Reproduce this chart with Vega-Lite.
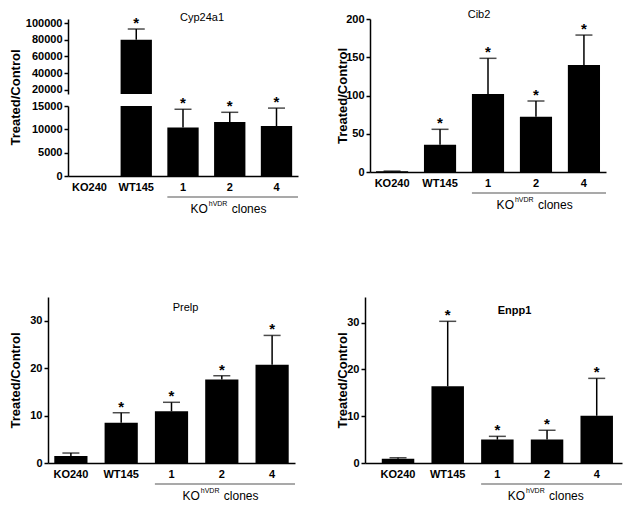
{
  "$schema": "https://vega.github.io/schema/vega-lite/v6.json",
  "autosize": {"type": "pad"},
  "padding": {"left": 8, "top": 9, "right": 8, "bottom": 8},
  "background": "white",
  "config": {
    "font": "Liberation Sans",
    "view": {"stroke": null},
    "axis": {"grid": false, "labelOverlap": false, "domainColor": "black", "domainWidth": 1.5, "tickColor": "black", "tickWidth": 1.5, "labelColor": "black", "labelFont": "Liberation Sans", "labelFontWeight": "bold", "labelFontSize": 11, "titleColor": "black", "titleFont": "Liberation Sans", "titleFontWeight": "bold", "titleFontSize": 13},
    "axisX": {"ticks": false, "tickSize": 0, "labelPadding": 5, "labelAngle": 0},
    "axisY": {"tickSize": 4, "labelPadding": 2, "titleBaseline": "middle", "titleAlign": "center", "labelOverlap": false},
    "title": {"font": "Liberation Sans", "fontSize": 11, "fontWeight": "normal", "color": "black", "anchor": "middle", "frame": "group", "baseline": "middle", "offset": 0}
  },
  "datasets": {
    "cyp": [
      {"group": "KO240", "value": 1, "upper": null, "sig": ""},
      {"group": "WT145", "value": 80000, "upper": 92800, "sig": "*"},
      {"group": "1", "value": 10400, "upper": 14300, "sig": "*"},
      {"group": "2", "value": 11550, "upper": 13650, "sig": "*"},
      {"group": "4", "value": 10700, "upper": 14550, "sig": "*"}
    ],
    "cib": [
      {"group": "KO240", "value": 1, "upper": 1.2, "sig": ""},
      {"group": "WT145", "value": 35.7, "upper": 55.8, "sig": "*"},
      {"group": "1", "value": 102, "upper": 148.6, "sig": "*"},
      {"group": "2", "value": 72.3, "upper": 92.8, "sig": "*"},
      {"group": "4", "value": 139.9, "upper": 179, "sig": "*"}
    ],
    "prelp": [
      {"group": "KO240", "value": 1.5, "upper": 2.1, "sig": ""},
      {"group": "WT145", "value": 8.5, "upper": 10.6, "sig": "*"},
      {"group": "1", "value": 10.9, "upper": 12.8, "sig": "*"},
      {"group": "2", "value": 17.6, "upper": 18.4, "sig": "*"},
      {"group": "4", "value": 20.7, "upper": 26.9, "sig": "*"}
    ],
    "enpp": [
      {"group": "KO240", "value": 0.93, "upper": 1.1, "sig": ""},
      {"group": "WT145", "value": 16.4, "upper": 30.3, "sig": "*"},
      {"group": "1", "value": 5.0, "upper": 5.7, "sig": "*"},
      {"group": "2", "value": 5.0, "upper": 7.0, "sig": "*"},
      {"group": "4", "value": 10.1, "upper": 18.1, "sig": "*"}
    ],
    "one": [{}]
  },
  "bounds": "flush",
  "spacing": 278,
  "vconcat": [
    {
      "bounds": "flush",
      "spacing": 322,
      "hconcat": [
        {
          "bounds": "flush",
          "spacing": 12,
          "vconcat": [
            {
              "width": 250, "height": 75,
              "data": {"name": "cyp"},
              "title": {"text": "Cyp24a1", "dx": 29, "dy": 11},
              "encoding": {"x": {"field": "group", "type": "nominal", "scale": {"domain": ["KO240", "WT145", "1", "2", "4"], "range": [20, 250], "paddingInner": 0.33, "paddingOuter": 0.125}, "axis": null}},
              "layer": [
                {"mark": {"type": "bar", "color": "black", "clip": true},
                 "encoding": {"y": {"field": "value", "type": "quantitative", "title": null, "scale": {"domain": [15000, 104800], "nice": false, "zero": false}, "axis": {"values": [20000, 40000, 60000, 80000, 100000], "format": "d", "offset": -20, "labelOverlap": false}}}},
                {"transform": [{"filter": "datum.upper != null && datum.upper >= 15000"}],
                 "mark": {"type": "rule", "color": "black", "strokeWidth": 1.5},
                 "encoding": {"y": {"field": "value", "type": "quantitative", "title": null, "axis": {"values": [20000, 40000, 60000, 80000, 100000], "format": "d", "offset": -20, "labelOverlap": false}}, "y2": {"field": "upper"}}},
                {"transform": [{"filter": "datum.upper != null && datum.upper >= 15000"}],
                 "mark": {"type": "tick", "color": "black", "size": 17, "thickness": 1.5},
                 "encoding": {"y": {"field": "upper", "type": "quantitative", "title": null, "axis": {"values": [20000, 40000, 60000, 80000, 100000], "format": "d", "offset": -20, "labelOverlap": false}}}},
                {"transform": [{"filter": "datum.upper != null && datum.upper >= 15000"}],
                 "mark": {"type": "text", "fontSize": 15, "fontWeight": "bold", "baseline": "alphabetic", "dy": -1, "color": "black"},
                 "encoding": {"y": {"field": "upper", "type": "quantitative", "title": null, "axis": {"values": [20000, 40000, 60000, 80000, 100000], "format": "d", "offset": -20, "labelOverlap": false}}, "text": {"field": "sig"}}}
              ]
            },
            {
              "width": 250, "height": 70,
              "data": {"name": "cyp"},
              "encoding": {"x": {"field": "group", "type": "nominal", "title": null, "scale": {"domain": ["KO240", "WT145", "1", "2", "4"], "range": [20, 250], "paddingInner": 0.33, "paddingOuter": 0.125}}},
              "layer": [
                {"mark": {"type": "bar", "color": "black", "clip": true},
                 "encoding": {"y": {"field": "value", "type": "quantitative", "title": "Treated/Control", "scale": {"domain": [0, 15000], "nice": false}, "axis": {"values": [0, 5000, 10000, 15000], "format": "d", "offset": -20, "titleX": -53, "titleY": -9, "labelOverlap": false}}}},
                {"transform": [{"filter": "datum.upper != null && datum.upper < 15000"}],
                 "mark": {"type": "rule", "color": "black", "strokeWidth": 1.5},
                 "encoding": {"y": {"field": "value", "type": "quantitative", "title": "Treated/Control", "axis": {"values": [0, 5000, 10000, 15000], "format": "d", "offset": -20, "titleX": -53, "titleY": -9, "labelOverlap": false}}, "y2": {"field": "upper"}}},
                {"transform": [{"filter": "datum.upper != null && datum.upper < 15000"}],
                 "mark": {"type": "tick", "color": "black", "size": 17, "thickness": 1.5},
                 "encoding": {"y": {"field": "upper", "type": "quantitative", "title": "Treated/Control", "axis": {"values": [0, 5000, 10000, 15000], "format": "d", "offset": -20, "titleX": -53, "titleY": -9, "labelOverlap": false}}}},
                {"transform": [{"filter": "datum.upper != null && datum.upper < 15000"}],
                 "mark": {"type": "text", "fontSize": 15, "fontWeight": "bold", "baseline": "alphabetic", "dy": -1, "color": "black"},
                 "encoding": {"y": {"field": "upper", "type": "quantitative", "title": "Treated/Control", "axis": {"values": [0, 5000, 10000, 15000], "format": "d", "offset": -20, "titleX": -53, "titleY": -9, "labelOverlap": false}}, "text": {"field": "sig"}}},
                {"data": {"name": "one"},
                 "mark": {"type": "rule", "color": "#8c8c8c", "strokeWidth": 1.5, "yOffset": 21},
                 "encoding": {"x": {"datum": "1", "bandPosition": 0}, "x2": {"value": "width"}, "y": {"datum": 0, "type": "quantitative", "title": "Treated/Control", "axis": {"values": [0, 5000, 10000, 15000], "format": "d", "offset": -20, "titleX": -53, "titleY": -9, "labelOverlap": false}}}},
                {"data": {"name": "one"},
                 "mark": {"type": "text", "text": "KO", "fontSize": 12, "align": "right", "baseline": "alphabetic", "dx": -22, "dy": 37, "color": "black"},
                 "encoding": {"x": {"datum": "2"}, "y": {"datum": 0, "type": "quantitative", "title": "Treated/Control", "axis": {"values": [0, 5000, 10000, 15000], "format": "d", "offset": -20, "titleX": -53, "titleY": -9, "labelOverlap": false}}}},
                {"data": {"name": "one"},
                 "mark": {"type": "text", "text": "hVDR", "fontSize": 7, "align": "left", "baseline": "alphabetic", "dx": -21, "dy": 30, "color": "black"},
                 "encoding": {"x": {"datum": "2"}, "y": {"datum": 0, "type": "quantitative", "title": "Treated/Control", "axis": {"values": [0, 5000, 10000, 15000], "format": "d", "offset": -20, "titleX": -53, "titleY": -9, "labelOverlap": false}}}},
                {"data": {"name": "one"},
                 "mark": {"type": "text", "text": "clones", "fontSize": 12, "align": "left", "baseline": "alphabetic", "dx": 2, "dy": 37, "color": "black"},
                 "encoding": {"x": {"datum": "2"}, "y": {"datum": 0, "type": "quantitative", "title": "Treated/Control", "axis": {"values": [0, 5000, 10000, 15000], "format": "d", "offset": -20, "titleX": -53, "titleY": -9, "labelOverlap": false}}}}
              ]
            }
          ]
        },
        {
          "width": 236, "height": 153,
          "data": {"name": "cib"},
          "title": {"text": "Cib2", "dx": -9, "dy": 11},
          "encoding": {"x": {"field": "group", "type": "nominal", "title": null, "scale": {"domain": ["KO240", "WT145", "1", "2", "4"], "paddingInner": 0.33, "paddingOuter": 0.125}}},
          "layer": [
            {"mark": {"type": "bar", "color": "black"},
             "encoding": {"y": {"field": "value", "type": "quantitative", "title": "Treated/Control", "scale": {"domain": [0, 200], "nice": false}, "axis": {"values": [0, 50, 100, 150, 200], "titleX": -28, "labelOverlap": false}}}},
            {"mark": {"type": "rule", "color": "black", "strokeWidth": 1.5},
             "encoding": {"y": {"field": "value", "type": "quantitative", "title": "Treated/Control", "axis": {"values": [0, 50, 100, 150, 200], "titleX": -28, "labelOverlap": false}}, "y2": {"field": "upper"}}},
            {"mark": {"type": "tick", "color": "black", "size": 17, "thickness": 1.5},
             "encoding": {"y": {"field": "upper", "type": "quantitative", "title": "Treated/Control", "axis": {"values": [0, 50, 100, 150, 200], "titleX": -28, "labelOverlap": false}}}},
            {"mark": {"type": "text", "fontSize": 15, "fontWeight": "bold", "baseline": "alphabetic", "dy": -1, "color": "black"},
             "encoding": {"y": {"field": "upper", "type": "quantitative", "title": "Treated/Control", "axis": {"values": [0, 50, 100, 150, 200], "titleX": -28, "labelOverlap": false}}, "text": {"field": "sig"}}},
            {"data": {"name": "one"},
             "mark": {"type": "rule", "color": "#8c8c8c", "strokeWidth": 1.5, "yOffset": 21},
             "encoding": {"x": {"datum": "1", "bandPosition": 0}, "x2": {"value": "width"}, "y": {"datum": 0, "type": "quantitative", "title": "Treated/Control", "axis": {"values": [0, 50, 100, 150, 200], "titleX": -28, "labelOverlap": false}}}},
            {"data": {"name": "one"},
             "mark": {"type": "text", "text": "KO", "fontSize": 12, "align": "right", "baseline": "alphabetic", "dx": -22, "dy": 37, "color": "black"},
             "encoding": {"x": {"datum": "2"}, "y": {"datum": 0, "type": "quantitative", "title": "Treated/Control", "axis": {"values": [0, 50, 100, 150, 200], "titleX": -28, "labelOverlap": false}}}},
            {"data": {"name": "one"},
             "mark": {"type": "text", "text": "hVDR", "fontSize": 7, "align": "left", "baseline": "alphabetic", "dx": -21, "dy": 30, "color": "black"},
             "encoding": {"x": {"datum": "2"}, "y": {"datum": 0, "type": "quantitative", "title": "Treated/Control", "axis": {"values": [0, 50, 100, 150, 200], "titleX": -28, "labelOverlap": false}}}},
            {"data": {"name": "one"},
             "mark": {"type": "text", "text": "clones", "fontSize": 12, "align": "left", "baseline": "alphabetic", "dx": 2, "dy": 37, "color": "black"},
             "encoding": {"x": {"datum": "2"}, "y": {"datum": 0, "type": "quantitative", "title": "Treated/Control", "axis": {"values": [0, 50, 100, 150, 200], "titleX": -28, "labelOverlap": false}}}}
          ]
        }
      ]
    },
    {
      "bounds": "flush",
      "spacing": 70,
      "hconcat": [
        {
          "width": 247, "height": 166,
          "data": {"name": "prelp"},
          "title": {"text": "Prelp", "dx": 14, "dy": 20},
          "encoding": {"x": {"field": "group", "type": "nominal", "title": null, "scale": {"domain": ["KO240", "WT145", "1", "2", "4"], "paddingInner": 0.34, "paddingOuter": 0.125}}},
          "layer": [
            {"mark": {"type": "bar", "color": "black"},
             "encoding": {"y": {"field": "value", "type": "quantitative", "title": "Treated/Control", "scale": {"domain": [0, 35], "nice": false}, "axis": {"values": [0, 10, 20, 30], "titleX": -33, "labelOverlap": false}}}},
            {"mark": {"type": "rule", "color": "black", "strokeWidth": 1.5},
             "encoding": {"y": {"field": "value", "type": "quantitative", "title": "Treated/Control", "axis": {"values": [0, 10, 20, 30], "titleX": -33, "labelOverlap": false}}, "y2": {"field": "upper"}}},
            {"mark": {"type": "tick", "color": "black", "size": 17, "thickness": 1.5},
             "encoding": {"y": {"field": "upper", "type": "quantitative", "title": "Treated/Control", "axis": {"values": [0, 10, 20, 30], "titleX": -33, "labelOverlap": false}}}},
            {"mark": {"type": "text", "fontSize": 15, "fontWeight": "bold", "baseline": "alphabetic", "dy": -1, "color": "black"},
             "encoding": {"y": {"field": "upper", "type": "quantitative", "title": "Treated/Control", "axis": {"values": [0, 10, 20, 30], "titleX": -33, "labelOverlap": false}}, "text": {"field": "sig"}}},
            {"data": {"name": "one"},
             "mark": {"type": "rule", "color": "#8c8c8c", "strokeWidth": 1.5, "yOffset": 21},
             "encoding": {"x": {"datum": "1", "bandPosition": 0}, "x2": {"value": "width"}, "y": {"datum": 0, "type": "quantitative", "title": "Treated/Control", "axis": {"values": [0, 10, 20, 30], "titleX": -33, "labelOverlap": false}}}},
            {"data": {"name": "one"},
             "mark": {"type": "text", "text": "KO", "fontSize": 12, "align": "right", "baseline": "alphabetic", "dx": -22, "dy": 37, "color": "black"},
             "encoding": {"x": {"datum": "2"}, "y": {"datum": 0, "type": "quantitative", "title": "Treated/Control", "axis": {"values": [0, 10, 20, 30], "titleX": -33, "labelOverlap": false}}}},
            {"data": {"name": "one"},
             "mark": {"type": "text", "text": "hVDR", "fontSize": 7, "align": "left", "baseline": "alphabetic", "dx": -21, "dy": 30, "color": "black"},
             "encoding": {"x": {"datum": "2"}, "y": {"datum": 0, "type": "quantitative", "title": "Treated/Control", "axis": {"values": [0, 10, 20, 30], "titleX": -33, "labelOverlap": false}}}},
            {"data": {"name": "one"},
             "mark": {"type": "text", "text": "clones", "fontSize": 12, "align": "left", "baseline": "alphabetic", "dx": 2, "dy": 37, "color": "black"},
             "encoding": {"x": {"datum": "2"}, "y": {"datum": 0, "type": "quantitative", "title": "Treated/Control", "axis": {"values": [0, 10, 20, 30], "titleX": -33, "labelOverlap": false}}}}
          ]
        },
        {
          "width": 257, "height": 166,
          "data": {"name": "enpp"},
          "title": {"text": "Enpp1", "dx": 21, "dy": 23, "fontWeight": "bold"},
          "encoding": {"x": {"field": "group", "type": "nominal", "title": null, "scale": {"domain": ["KO240", "WT145", "1", "2", "4"], "paddingInner": 0.346, "paddingOuter": 0.26, "align": 0.65}}},
          "layer": [
            {"mark": {"type": "bar", "color": "black"},
             "encoding": {"y": {"field": "value", "type": "quantitative", "title": "Treated/Control", "scale": {"domain": [0, 35.5], "nice": false}, "axis": {"values": [0, 10, 20, 30], "titleX": -23, "labelOverlap": false}}}},
            {"mark": {"type": "rule", "color": "black", "strokeWidth": 1.5},
             "encoding": {"y": {"field": "value", "type": "quantitative", "title": "Treated/Control", "axis": {"values": [0, 10, 20, 30], "titleX": -23, "labelOverlap": false}}, "y2": {"field": "upper"}}},
            {"mark": {"type": "tick", "color": "black", "size": 17, "thickness": 1.5},
             "encoding": {"y": {"field": "upper", "type": "quantitative", "title": "Treated/Control", "axis": {"values": [0, 10, 20, 30], "titleX": -23, "labelOverlap": false}}}},
            {"mark": {"type": "text", "fontSize": 15, "fontWeight": "bold", "baseline": "alphabetic", "dy": -1, "color": "black"},
             "encoding": {"y": {"field": "upper", "type": "quantitative", "title": "Treated/Control", "axis": {"values": [0, 10, 20, 30], "titleX": -23, "labelOverlap": false}}, "text": {"field": "sig"}}},
            {"data": {"name": "one"},
             "mark": {"type": "rule", "color": "#8c8c8c", "strokeWidth": 1.5, "yOffset": 21},
             "encoding": {"x": {"datum": "1", "bandPosition": 0}, "x2": {"value": "width"}, "y": {"datum": 0, "type": "quantitative", "title": "Treated/Control", "axis": {"values": [0, 10, 20, 30], "titleX": -23, "labelOverlap": false}}}},
            {"data": {"name": "one"},
             "mark": {"type": "text", "text": "KO", "fontSize": 12, "align": "right", "baseline": "alphabetic", "dx": -22, "dy": 37, "color": "black"},
             "encoding": {"x": {"datum": "2"}, "y": {"datum": 0, "type": "quantitative", "title": "Treated/Control", "axis": {"values": [0, 10, 20, 30], "titleX": -23, "labelOverlap": false}}}},
            {"data": {"name": "one"},
             "mark": {"type": "text", "text": "hVDR", "fontSize": 7, "align": "left", "baseline": "alphabetic", "dx": -21, "dy": 30, "color": "black"},
             "encoding": {"x": {"datum": "2"}, "y": {"datum": 0, "type": "quantitative", "title": "Treated/Control", "axis": {"values": [0, 10, 20, 30], "titleX": -23, "labelOverlap": false}}}},
            {"data": {"name": "one"},
             "mark": {"type": "text", "text": "clones", "fontSize": 12, "align": "left", "baseline": "alphabetic", "dx": 2, "dy": 37, "color": "black"},
             "encoding": {"x": {"datum": "2"}, "y": {"datum": 0, "type": "quantitative", "title": "Treated/Control", "axis": {"values": [0, 10, 20, 30], "titleX": -23, "labelOverlap": false}}}}
          ]
        }
      ]
    }
  ]
}
